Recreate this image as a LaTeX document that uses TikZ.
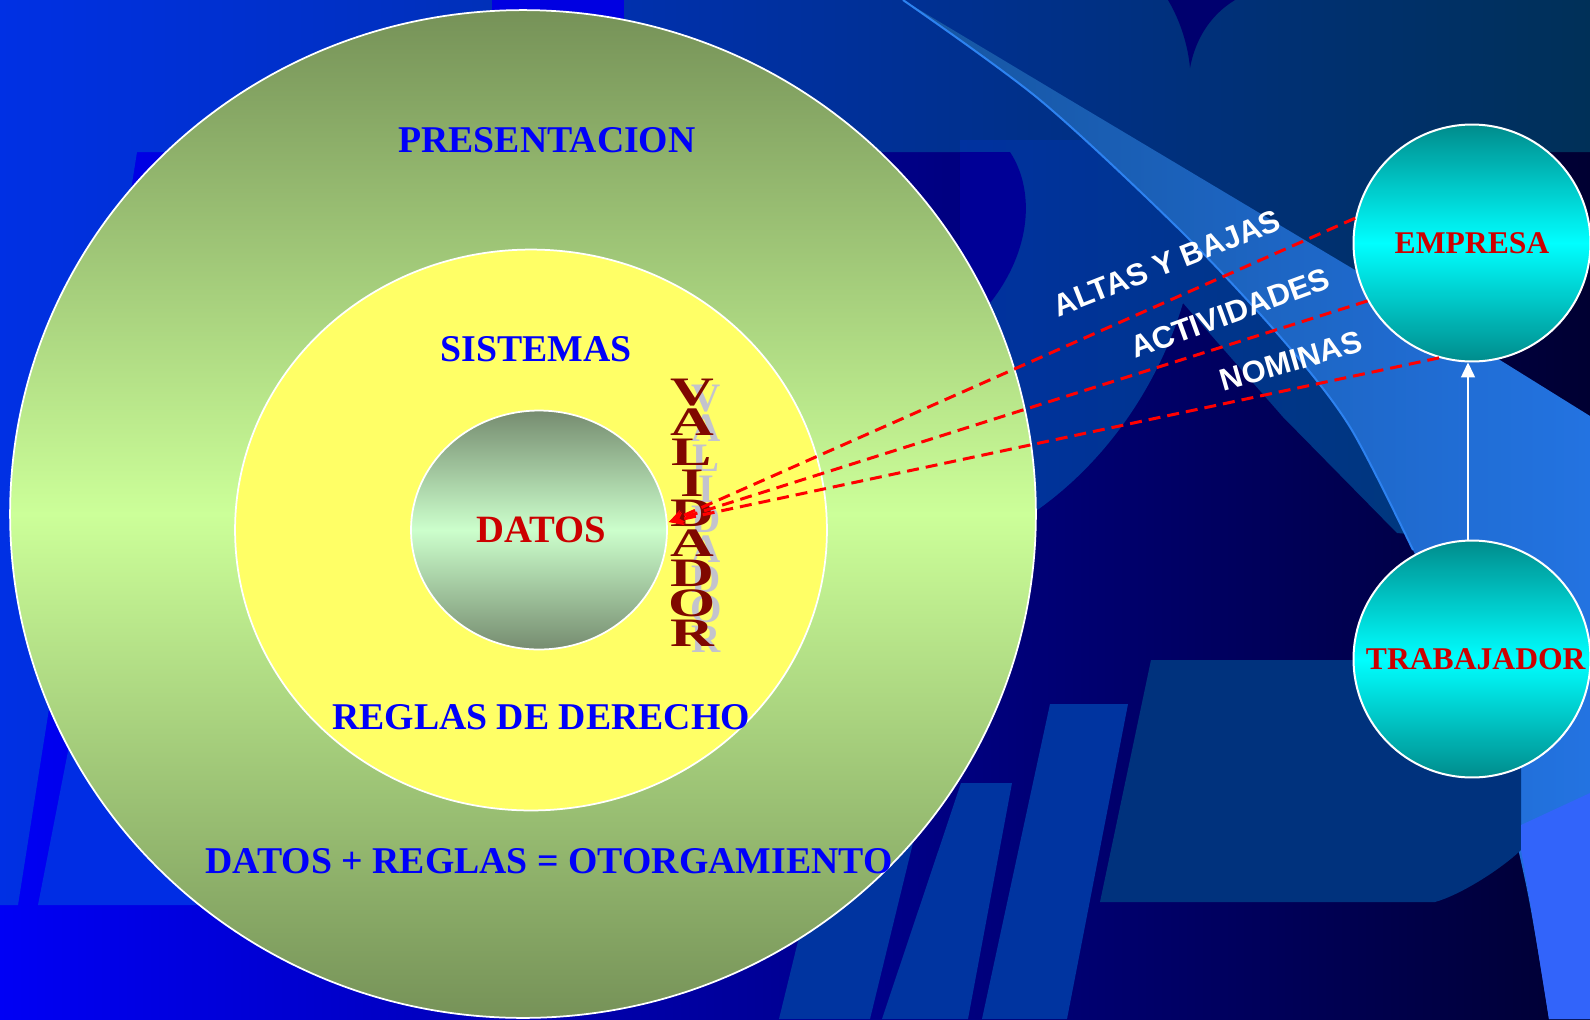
\documentclass[tikz,border=0pt]{standalone}
\usepackage{fontspec}
\setmainfont{Liberation Serif}
\newfontfamily\arialfont{Liberation Sans}
\newfontfamily\validfont[FakeStretch=1.5]{Liberation Serif}
\usepackage{xcolor}
\usepackage{tikz}
\usetikzlibrary{shapes.geometric,arrows.meta,positioning,calc}

\definecolor{bgleft}{RGB}{0,0,245}
\definecolor{bgmid}{RGB}{0,0,185}
\definecolor{bgright}{RGB}{0,0,50}
\definecolor{bandleft}{RGB}{0,48,228}
\definecolor{bandmid}{RGB}{0,50,178}
\definecolor{bandright}{RGB}{0,48,88}
\definecolor{slabblue}{RGB}{0,45,228}
\definecolor{notchblue}{RGB}{0,0,225}
\definecolor{spikeblue}{RGB}{0,0,110}
\definecolor{bowlblue}{RGB}{0,0,150}
\definecolor{swooshA}{RGB}{0,50,160}
\definecolor{swooshB}{RGB}{0,55,125}
\definecolor{lbandA}{RGB}{22,85,160}
\definecolor{lbandB}{RGB}{35,115,225}
\definecolor{lbline}{RGB}{45,130,240}
\definecolor{farright}{RGB}{50,100,250}
\definecolor{barblue}{RGB}{0,52,160}
\definecolor{slabdark}{RGB}{0,50,125}
\definecolor{olivedk}{RGB}{118,146,88}
\definecolor{greenlt}{RGB}{204,255,153}
\definecolor{yellowlt}{RGB}{255,255,102}
\definecolor{sagedk}{RGB}{118,140,112}
\definecolor{mintlt}{RGB}{204,255,204}
\definecolor{tealdk}{RGB}{0,140,140}
\definecolor{cyanlt}{RGB}{0,255,255}
\definecolor{txtblue}{RGB}{0,0,250}
\definecolor{txtred}{RGB}{204,0,0}
\definecolor{valred}{RGB}{128,8,0}
\definecolor{valshadow}{RGB}{195,195,205}

\begin{document}
\begin{tikzpicture}[x=0.02cm,y=-0.02cm,
  ring/.style={ellipse,draw=white,line width=0.035cm,inner sep=0pt},
  ball/.style={circle,draw=white,line width=0.04cm,inner sep=0pt,minimum size=4.74cm,
    top color=tealdk,bottom color=tealdk,middle color=cyanlt,text=txtred,
    font=\fontsize{18pt}{20pt}\selectfont\bfseries},
  layer/.style={text=txtblue,font=\fontsize{21.5pt}{24pt}\selectfont\bfseries},
  flow/.style={text=white,font=\arialfont\fontsize{17.6pt}{20pt}\selectfont\bfseries},
  feed/.style={draw=red,line width=0.06cm,dash pattern=on 0.24cm off 0.14cm,
    -{Stealth[length=0.3cm,width=0.26cm]}},
  vert/.style={align=center,inner sep=0pt}]
\useasboundingbox (0,0) rectangle (1590,1019);
\clip (0,0) rectangle (1590,1019);

% background
\shade[left color=bgleft,middle color=bgmid,right color=bgright] (0,0) rectangle (1590,1019);
\shade[left color=bandleft,middle color=bandmid,right color=bandright] (0,0) -- (1590,0) -- (1590,152) -- (1480,152) -- (1400,300) -- (1000,152) -- (137,152) -- (18,905) -- (0,905) -- cycle;
\fill[slabblue] (185,152) -- (640,152) -- (520,905) -- (38,905) -- cycle;
\fill[notchblue] (492,0) rectangle (624,152);
\fill[spikeblue] (1168,0) .. controls (1180,20) and (1188,45) .. (1190,68) .. controls (1195,40) and (1210,15) .. (1235,0) -- cycle;
\shade[left color=swooshA,right color=swooshB] (960,140) -- (1100,140) -- (1200,233) -- (1300,340) -- (1365,427) -- (1420,535) -- (1397,533) -- (1283,417) -- (1183,303) .. controls (1160,380) and (1110,460) .. (1033,513) -- (960,513) -- cycle;
\fill[bowlblue] (960,152) -- (1010,152) .. controls (1035,190) and (1032,250) .. (990,303) -- (960,303) -- cycle;
\shade[left color=lbandA,right color=lbandB] plot[smooth] coordinates {(903,0) (1040,100) (1183,233) (1283,340) (1350,427) (1413,550) (1480,700) (1525,880) (1549,1019)} -- (1590,1019) -- (1590,416) -- (1360,273) -- (1070,100) -- (903,0) -- cycle;
\draw[lbline,line width=0.04cm] plot[smooth] coordinates {(903,0) (1040,100) (1183,233) (1283,340) (1350,427) (1413,550)};
\fill[slabdark] (1151,660) -- (1521,660) -- (1521,850) .. controls (1500,870) and (1460,895) .. (1435,902) -- (1100,902) -- cycle;
\fill[farright] (1590,793) -- (1521,825) -- (1521,850) -- (1531,907) -- (1549,1019) -- (1590,1019) -- cycle;
\fill[barblue] (852,720) -- (943,720) -- (870,1019) -- (779,1019) -- cycle;
\fill[barblue] (961,783) -- (1012,783) -- (968,1019) -- (882,1019) -- cycle;
\fill[barblue] (1050,704) -- (1128,704) -- (1067,1019) -- (982,1019) -- cycle;

% rings
\node[ring,minimum width=20.52cm,minimum height=20.16cm,top color=olivedk,bottom color=olivedk,middle color=greenlt] (pres) at (523,514) {};
\node[ring,minimum width=11.84cm,minimum height=11.22cm,fill=yellowlt] (sist) at (531,530) {};
\node[ring,minimum width=5.12cm,minimum height=4.78cm,top color=sagedk,bottom color=sagedk,middle color=mintlt,text=txtred,font=\fontsize{22pt}{24pt}\selectfont\bfseries] (datos) at (539,530) {\hspace{0.1cm}DATOS};

\node[layer] (tpres) at (547,140) {PRESENTACION};
\node[layer] (tsist) at (536,349) {SISTEMAS};
\node[layer] (tregl) at (541,717) {REGLAS DE DERECHO};
\node[layer] (totor) at (549,861) {DATOS + REGLAS = OTORGAMIENTO};

% validador
\node[vert,text=valshadow,font=\fontsize{23pt}{17.15pt}\selectfont\bfseries] (valsh) at (706,519) {V\\A\\L\\I\\D\\A\\D\\O\\R};
\node[vert,text=valred,font=\validfont\fontsize{23pt}{17.15pt}\selectfont\bfseries] (valid) at (692,513) {V\\A\\L\\I\\D\\A\\D\\O\\R};

% empresa / trabajador
\node[ball] (emp) at (1472,243) {EMPRESA};
\node[ball] (trab) at (1472,659) {\hspace{0.15cm}TRABAJADOR};
\draw[white,line width=0.03cm,-{Triangle[length=0.3cm,width=0.28cm]}] ([xshift=-0.08cm]trab.north) -- ([xshift=-0.08cm]emp.south);

\coordinate (hit) at ($(datos.east)+(1,-8)$);
\draw[feed] (emp.168) -- (hit);
\draw[feed] (emp.209) -- (hit);
\draw[feed] (emp.254) -- (hit);

\node[flow,rotate=21.5] (altas) at (1167,263) {ALTAS Y BAJAS};
\node[flow,rotate=20] (activ) at (1230,313) {ACTIVIDADES};
\node[flow,rotate=16] (nomin) at (1291,361) {NOMINAS};
\end{tikzpicture}
\end{document}
